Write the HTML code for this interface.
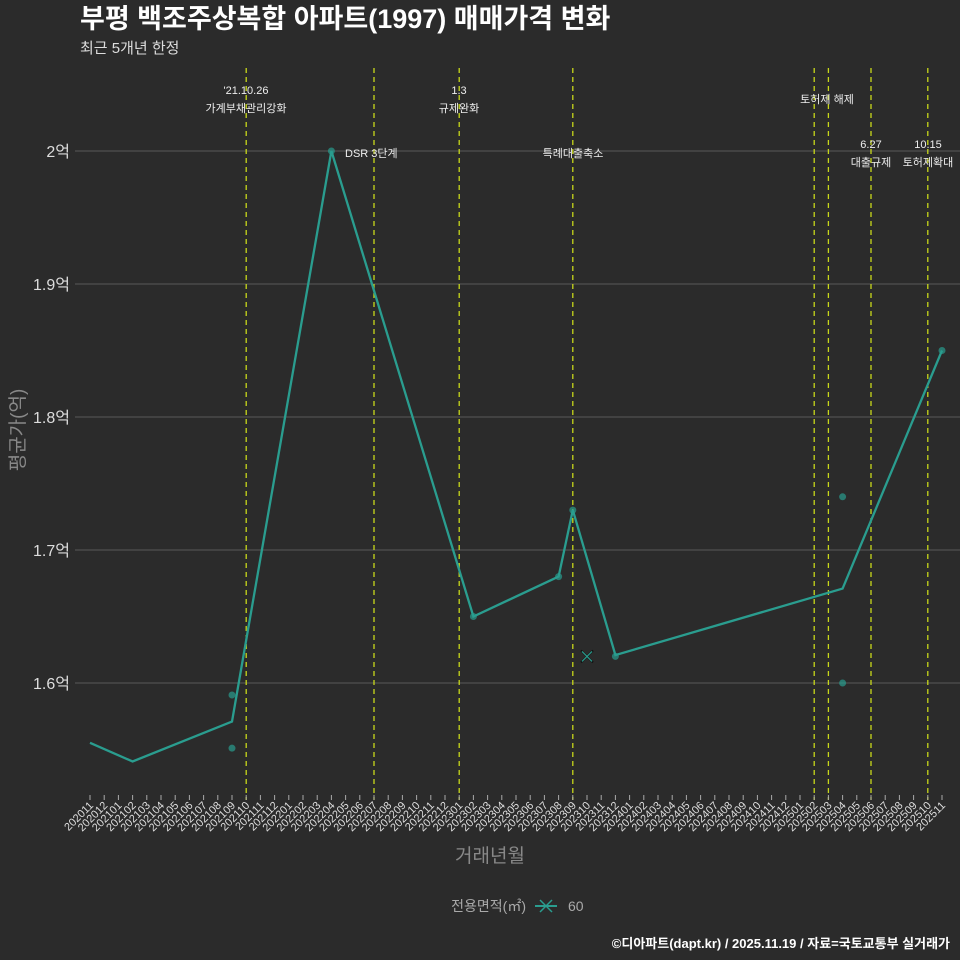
<!DOCTYPE html>
<html><head><meta charset="utf-8">
<style>
html,body{margin:0;padding:0;background:#2b2b2b;}
svg{display:block;font-family:"Liberation Sans","Noto Sans CJK KR",sans-serif;}
</style></head>
<body>
<svg id="chart" width="960" height="960" viewBox="0 0 960 960" xmlns="http://www.w3.org/2000/svg">
<rect width="960" height="960" fill="#2b2b2b"/>
<text x="80" y="28" font-size="27" font-weight="bold" fill="#ffffff">부평 백조주상복합 아파트(1997) 매매가격 변화</text>
<text x="80" y="53" font-size="15" fill="#dddddd">최근 5개년 한정</text>
<g id="grid"></g>
<g id="vlines"></g>
<g id="series"></g>
<g id="xaxis"></g>
<g id="yaxis"></g>
<text x="490" y="862" font-size="19" fill="#888" text-anchor="middle">거래년월</text>
<text transform="translate(24,430) rotate(-90)" font-size="19" fill="#888" text-anchor="middle">평균가(억)</text>
<g>
<text x="526" y="911" font-size="14" fill="#aaa" text-anchor="end">전용면적(㎡)</text>
<line x1="535" y1="906" x2="557" y2="906" stroke="#2a9d8f" stroke-width="2"/>
<path d="M540,900 L552,912 M552,900 L540,912" stroke="#2a9d8f" stroke-width="1.5"/>
<text x="568" y="911" font-size="14" fill="#aaa">60</text>
</g>
<text x="950" y="948" font-size="13" font-weight="bold" fill="#ffffff" text-anchor="end">©디아파트(dapt.kr) / 2025.11.19 / 자료=국토교통부 실거래가</text>
</svg>
<script>
const months = [];
for (let y = 2020, m = 11; !(y === 2025 && m === 12); ) { months.push(String(y) + String(m).padStart(2,'0')); m++; if (m > 12) { m = 1; y++; } }
const lineMonths = ['202011','202102','202109','202204','202302','202308','202309','202312','202504','202511'];
const lineValues = [1.555, 1.541, 1.571, 2.0, 1.65, 1.68, 1.73, 1.621, 1.671, 1.85];
const pointMonths = ['202109','202109','202204','202302','202308','202309','202312','202504','202504','202511'];
const pointValues = [1.591, 1.551, 2.0, 1.65, 1.68, 1.73, 1.62, 1.74, 1.60, 1.85];
const crossMonths = ['202310'];
const crossValues = [1.62];
const yTicks = [1.6, 1.7, 1.8, 1.9, 2.0];
const yTickLabels = ['1.6억','1.7억','1.8억','1.9억','2억'];
const policyMonths = ['202110','202207','202301','202309','202502','202503','202506','202510'];
const policyLabels = [["'21.10.26","가계부채관리강화"],["DSR 3단계"],["1.3","규제완화"],["특례대출축소"],["토허제 해제"],[],["6.27","대출규제"],["10.15","토허제확대"]];

const NS = 'http://www.w3.org/2000/svg';
const X0 = 90, X1 = 942;
function xs(mo){ return X0 + months.indexOf(mo) * (X1 - X0) / (months.length - 1); }
function ys(v){ return 683 - (v - 1.6) * 1330; }
function mk(tag, attrs, parent){ const e = document.createElementNS(NS, tag); for (const k in attrs) e.setAttribute(k, attrs[k]); parent.appendChild(e); return e; }

const grid = document.getElementById('grid');
const yaxis = document.getElementById('yaxis');
yTicks.forEach((t, i) => {
  const l = mk('line', {x1: 75, x2: 960, y1: ys(t), y2: ys(t), stroke: '#5a5a5a', 'stroke-width': 1}, grid);
  
  
  const tx = mk('text', {x: 70, y: ys(t) + 6, 'font-size': 16, fill: '#dddddd', 'text-anchor': 'end'}, yaxis);
  tx.textContent = yTickLabels[i];
  
  
});

const vl = document.getElementById('vlines');
policyMonths.forEach((mo, i) => {
  const x = xs(mo);
  const l = mk('line', {x1: x, x2: x, y1: 68, y2: 800, stroke: '#c8d81a', 'stroke-width': 1.3, 'stroke-dasharray': '5,4'}, vl);
  
  
});
const annPos = [[246,[94,112]],[374,[157]],[459,[94,112]],[573,[157]],[827,[103]],[0,[]],[871,[148,166]],[928,[148,166]]];
policyLabels.forEach((lines, i) => {
  lines.forEach((s, j) => {
    let x = annPos[i][0];
    let anchor = 'middle';
    if (i === 1) { x = 345; anchor = 'start'; }
    const t = mk('text', {x: x, y: annPos[i][1][j], 'font-size': 11, fill: '#eeeeee', 'text-anchor': anchor}, vl);
    t.textContent = s;
    
    
  });
});

const xa = document.getElementById('xaxis');
months.forEach(mo => {
  const x = xs(mo);
  const tk = mk('line', {x1: x, x2: x, y1: 795, y2: 800, stroke: '#aaa', 'stroke-width': 1}, xa);
  
  
  const t = mk('text', {transform: `translate(${x + 4},${806}) rotate(-45)`, 'font-size': 11, fill: '#dddddd', 'text-anchor': 'end'}, xa);
  t.textContent = mo;
  
  
});

const se = document.getElementById('series');
const pts = lineMonths.map((m, i) => xs(m) + ',' + ys(lineValues[i])).join(' ');
const pl = mk('polyline', {points: pts, fill: 'none', stroke: '#2a9d8f', 'stroke-width': 2.3}, se);


pointMonths.forEach((m, i) => {
  const c = mk('circle', {cx: xs(m), cy: ys(pointValues[i]), r: 3.5, fill: '#2a9d8f', 'fill-opacity': 0.7}, se);
  
  
});
crossMonths.forEach((m, i) => {
  const x = xs(m), y = ys(crossValues[i]);
  const p = mk('path', {d: `M${x-6},${y-6} L${x+6},${y+6} M${x+6},${y-6} L${x-6},${y+6}`, stroke: '#111', 'stroke-width': 2}, se);
  
  
  const p2 = mk('path', {d: `M${x-5},${y-5} L${x+5},${y+5} M${x+5},${y-5} L${x-5},${y+5}`, stroke: '#2a9d8f', 'stroke-width': 1.2}, se);
  
  
});
</script>
</body></html>
